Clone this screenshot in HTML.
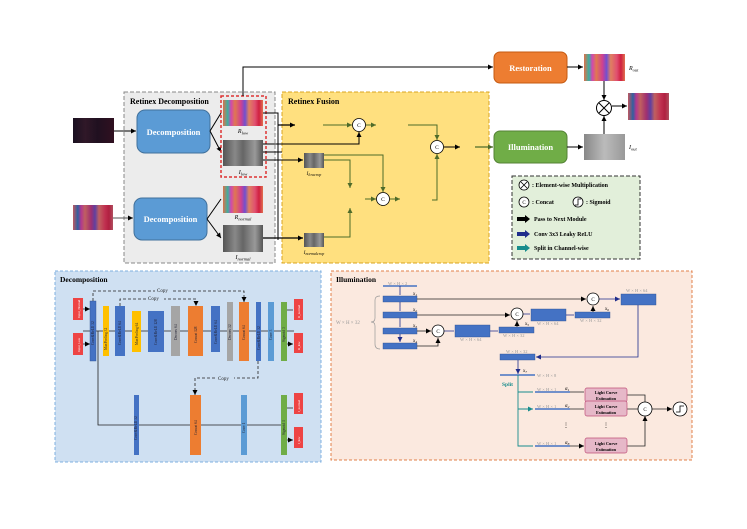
<!DOCTYPE html>
<html><head><meta charset="utf-8"><style>
html,body{margin:0;padding:0;background:#fff}
svg{display:block}
text{font-family:"Liberation Serif",serif}
</style></head><body>
<svg width="747" height="529" viewBox="0 0 747 529" xmlns="http://www.w3.org/2000/svg">
<defs>
<marker id="ab" markerWidth="6" markerHeight="6" refX="5" refY="3" orient="auto" markerUnits="userSpaceOnUse"><path d="M0,0.5 L5,3 L0,5.5z" fill="#000"/></marker>
<marker id="ag" markerWidth="6" markerHeight="6" refX="5" refY="3" orient="auto" markerUnits="userSpaceOnUse"><path d="M0,0.5 L5,3 L0,5.5z" fill="#4e6b2a"/></marker>
<marker id="an" markerWidth="6" markerHeight="6" refX="5" refY="3" orient="auto" markerUnits="userSpaceOnUse"><path d="M0,0.5 L5,3 L0,5.5z" fill="#1f2d8c"/></marker>
<marker id="at" markerWidth="6" markerHeight="6" refX="5" refY="3" orient="auto" markerUnits="userSpaceOnUse"><path d="M0,0.5 L5,3 L0,5.5z" fill="#178c8c"/></marker>
<linearGradient id="col" x1="0" x2="1">
<stop offset="0" stop-color="#e0704a"/><stop offset="0.12" stop-color="#3bb0a0"/><stop offset="0.2" stop-color="#d048b0"/><stop offset="0.3" stop-color="#e07850"/><stop offset="0.45" stop-color="#d04090"/><stop offset="0.55" stop-color="#7050d0"/><stop offset="0.65" stop-color="#e08060"/><stop offset="0.8" stop-color="#e05070"/><stop offset="0.9" stop-color="#d02040"/><stop offset="1" stop-color="#e07050"/></linearGradient>
<linearGradient id="col2" x1="0" x2="1">
<stop offset="0" stop-color="#c05860"/><stop offset="0.12" stop-color="#3060a0"/><stop offset="0.2" stop-color="#b03890"/><stop offset="0.3" stop-color="#c06060"/><stop offset="0.45" stop-color="#a03070"/><stop offset="0.55" stop-color="#6040a0"/><stop offset="0.65" stop-color="#c06060"/><stop offset="0.8" stop-color="#c03050"/><stop offset="0.9" stop-color="#b02040"/><stop offset="1" stop-color="#b05060"/></linearGradient>
<linearGradient id="dk" x1="0" x2="1"><stop offset="0" stop-color="#1a1020"/><stop offset="0.3" stop-color="#301828"/><stop offset="0.6" stop-color="#201020"/><stop offset="1" stop-color="#301020"/></linearGradient>
<linearGradient id="gr" x1="0" x2="1"><stop offset="0" stop-color="#555"/><stop offset="0.3" stop-color="#888"/><stop offset="0.5" stop-color="#666"/><stop offset="0.8" stop-color="#999"/><stop offset="1" stop-color="#555"/></linearGradient>
<linearGradient id="gr2" x1="0" x2="1"><stop offset="0" stop-color="#888"/><stop offset="0.5" stop-color="#bbb"/><stop offset="1" stop-color="#999"/></linearGradient>
</defs>

<!-- TOP: boxes -->
<rect x="124" y="92" width="151" height="171" fill="#ececec" stroke="#888" stroke-dasharray="4,2" stroke-width="1"/>
<text x="130" y="104" font-size="8" font-weight="bold">Retinex Decomposition</text>
<rect x="282" y="92" width="207" height="171" fill="#ffe07f" stroke="#d9a520" stroke-dasharray="4,2" stroke-width="1"/>
<text x="288" y="104" font-size="8" font-weight="bold">Retinex Fusion</text>

<!-- inputs -->
<rect x="73" y="118" width="41" height="25" fill="url(#dk)"/>
<rect x="73" y="205" width="40" height="25" fill="url(#col2)"/>
<line x1="114" y1="131" x2="136" y2="131" stroke="#000" marker-end="url(#ab)"/>
<line x1="113" y1="218" x2="133" y2="218" stroke="#555" marker-end="url(#ab)"/>

<rect x="137" y="110" width="73" height="43" rx="8" fill="#5b9bd5" stroke="#41719c"/>
<text x="173.5" y="135" font-size="8.5" font-weight="bold" fill="#fff" text-anchor="middle">Decomposition</text>
<rect x="134" y="198" width="73" height="42" rx="8" fill="#5b9bd5" stroke="#41719c"/>
<text x="170.5" y="222" font-size="8.5" font-weight="bold" fill="#fff" text-anchor="middle">Decomposition</text>
<path d="M210,131 L221,113 M210,131 L221,152" stroke="#000" fill="none" marker-end="url(#ab)"/>
<path d="M207,219 L221,199 M207,219 L221,238" stroke="#000" fill="none" marker-end="url(#ab)"/>

<rect x="221" y="96" width="45" height="81" fill="none" stroke="#d33" stroke-dasharray="3,2" stroke-width="1.5"/>
<rect x="223" y="100" width="40" height="26" fill="url(#col)"/>
<text x="243" y="133" font-size="6" font-style="italic" text-anchor="middle">R<tspan font-size="4.5" dy="1.5">low</tspan></text>
<rect x="223" y="140" width="40" height="26" fill="url(#gr)"/>
<text x="243" y="174" font-size="6" font-style="italic" text-anchor="middle">I<tspan font-size="4.5" dy="1.5">low</tspan></text>
<rect x="223" y="186" width="40" height="27" fill="url(#col)"/>
<text x="243" y="219" font-size="6" font-style="italic" text-anchor="middle">R<tspan font-size="4.5" dy="1.5">normal</tspan></text>
<rect x="223" y="225" width="40" height="27" fill="url(#gr)"/>
<text x="243" y="259" font-size="6" font-style="italic" text-anchor="middle">I<tspan font-size="4.5" dy="1.5">normal</tspan></text>

<!-- to restoration -->
<path d="M243,96 L243,67 L493,67" stroke="#000" fill="none" marker-end="url(#ab)"/>

<!-- fusion lines -->
<path d="M263,113 L278,113 L278,240" stroke="#000" fill="none"/>
<line x1="278" y1="125" x2="295" y2="125" stroke="#000" stroke-width="1.3" marker-end="url(#ab)"/>
<line x1="323" y1="125" x2="352" y2="125" stroke="#4e6b2a" marker-end="url(#ag)"/>
<path d="M263,144 L359,144 L359,132" stroke="#000" fill="none" marker-end="url(#ab)"/>
<path d="M263,152 L282,152 M263,160 L303,160" stroke="#000" fill="none" marker-end="url(#ab)"/>
<path d="M263,238 L303,238" stroke="#000" stroke-width="1.3" fill="none" marker-end="url(#ab)"/>
<rect x="304" y="153" width="20" height="15" fill="url(#gr)"/>
<text x="314" y="175" font-size="5" font-style="italic" text-anchor="middle">I<tspan font-size="4" dy="1">lowcrop</tspan></text>
<rect x="304" y="233" width="20" height="14" fill="url(#gr)"/>
<text x="314" y="254" font-size="5" font-style="italic" text-anchor="middle">I<tspan font-size="4" dy="1">normalcrop</tspan></text>
<path d="M324,155 L383,155 L383,192" stroke="#4e6b2a" fill="none" marker-end="url(#ag)"/>
<path d="M324,160 L350,160 L350,188" stroke="#4e6b2a" fill="none" marker-end="url(#ag)"/>
<path d="M324,237 L350,237 L350,208" stroke="#4e6b2a" fill="none" marker-end="url(#ag)"/>
<line x1="365" y1="199" x2="376" y2="199" stroke="#4e6b2a" marker-end="url(#ag)"/>
<line x1="390" y1="199" x2="400" y2="199" stroke="#4e6b2a" marker-end="url(#ag)"/>
<line x1="366" y1="125" x2="376" y2="125" stroke="#4e6b2a" marker-end="url(#ag)"/>
<path d="M408,125 L437,125 L437,140" stroke="#4e6b2a" fill="none" marker-end="url(#ag)"/>
<path d="M432,200 L437,200 L437,154" stroke="#4e6b2a" fill="none" marker-end="url(#ag)"/>
<line x1="444" y1="147" x2="460" y2="147" stroke="#000" marker-end="url(#ab)"/>
<line x1="475" y1="147" x2="493" y2="147" stroke="#4e6b2a" stroke-width="1.2" marker-end="url(#ag)"/>
<g fill="#fff" stroke="#000" stroke-width="0.8">
<circle cx="359" cy="125" r="6.5"/><circle cx="437" cy="147" r="6.5"/><circle cx="383" cy="199" r="6.5"/></g>
<g font-size="5.5" text-anchor="middle" font-family="Liberation Sans"><text x="359" y="127" font-family="Liberation Sans">C</text><text x="437" y="149" font-family="Liberation Sans">C</text><text x="383" y="201" font-family="Liberation Sans">C</text></g>

<!-- right: restoration / illumination -->
<rect x="494" y="52" width="73" height="31" rx="6" fill="#ed7d31" stroke="#c55a11"/>
<text x="530.5" y="71" font-size="8.5" font-weight="bold" fill="#fff" text-anchor="middle">Restoration</text>
<rect x="494" y="131" width="73" height="32" rx="6" fill="#70ad47" stroke="#548235"/>
<text x="530.5" y="150" font-size="8.5" font-weight="bold" fill="#fff" text-anchor="middle">Illumination</text>
<line x1="567" y1="67" x2="583" y2="67" stroke="#000" marker-end="url(#ab)"/>
<line x1="567" y1="147" x2="583" y2="147" stroke="#000" marker-end="url(#ab)"/>
<rect x="584" y="54" width="41" height="27" fill="url(#col)"/>
<text x="629" y="70" font-size="6" font-style="italic">R<tspan font-size="4.5" dy="1.5">out</tspan></text>
<rect x="584" y="134" width="41" height="26" fill="url(#gr2)"/>
<text x="629" y="149" font-size="6" font-style="italic">I<tspan font-size="4.5" dy="1.5">out</tspan></text>
<line x1="604" y1="81" x2="604" y2="100" stroke="#000" marker-end="url(#ab)"/>
<line x1="604" y1="134" x2="604" y2="116" stroke="#000" marker-end="url(#ab)"/>
<circle cx="604" cy="108" r="7.5" fill="#fff" stroke="#000"/>
<path d="M599,103 L609,113 M609,103 L599,113" stroke="#000"/>
<line x1="612" y1="106" x2="627" y2="106" stroke="#000" marker-end="url(#ab)"/>
<rect x="628" y="93" width="41" height="27" fill="url(#col2)"/>

<!-- legend -->
<rect x="512" y="176" width="128" height="83" fill="#e2efda" stroke="#333" stroke-dasharray="4,2"/>
<g font-size="6" font-weight="bold">
<circle cx="524" cy="185" r="5" fill="#fff" stroke="#000" stroke-width="0.8"/><path d="M521,182 L527,188 M527,182 L521,188" stroke="#000" stroke-width="0.8"/>
<text x="532" y="187">:  Element-wise Multiplication</text>
<circle cx="524" cy="202" r="5" fill="#fff" stroke="#000" stroke-width="0.8"/><text x="524" y="204" font-size="5" text-anchor="middle" font-weight="normal" font-family="Liberation Sans">C</text>
<text x="532" y="204">:  Concat</text>
<circle cx="578" cy="202" r="5" fill="#fff" stroke="#000" stroke-width="0.8"/><path d="M575,205 L578,205 L578,199 L581,199" stroke="#000" fill="none" stroke-width="0.8"/>
<text x="586" y="204">:  Sigmoid</text>
<path d="M517,217 L525,217 L525,215 L530,219 L525,223 L525,221 L517,221z" fill="#000"/>
<text x="534" y="221">Pass to Next Module</text>
<path d="M517,232 L525,232 L525,230 L530,234 L525,238 L525,236 L517,236z" fill="#1f2d8c"/>
<text x="534" y="236">Conv 3x3  Leaky ReLU</text>
<path d="M517,246 L525,246 L525,244 L530,248 L525,252 L525,250 L517,250z" fill="#178c8c"/>
<text x="534" y="250">Split in Channel-wise</text>
</g>

<!-- BOTTOM LEFT: Decomposition -->
<rect x="55" y="271" width="266" height="191" fill="#cfe0f2" stroke="#7fb0e0" stroke-dasharray="3,2"/>
<text x="60" y="282" font-size="7.5" font-weight="bold">Decomposition</text>
<g font-family="Liberation Sans" font-size="3.6" fill="#222">
<!-- main line -->
<line x1="83" y1="331" x2="294" y2="331" stroke="#222" stroke-width="0.8"/>
<path d="M98,331 L98,425 L282,425" stroke="#222" stroke-width="0.8" fill="none"/>
<line x1="83" y1="309" x2="90" y2="309" stroke="#222" stroke-width="0.8" marker-end="url(#ab)"/>
<line x1="83" y1="344" x2="90" y2="344" stroke="#222" stroke-width="0.8" marker-end="url(#ab)"/>
<path d="M93,301 L93,291 L244,291 L244,302" stroke="#222" stroke-dasharray="3,2" stroke-width="0.8" fill="none" marker-end="url(#ab)"/>
<path d="M120,306 L120,299 L196,299 L196,306" stroke="#222" stroke-dasharray="3,2" stroke-width="0.8" fill="none" marker-end="url(#ab)"/>
<path d="M258,361 L258,378 L195,378 L195,395" stroke="#222" stroke-dasharray="3,2" stroke-width="0.8" fill="none" marker-end="url(#ab)"/>
<rect x="155" y="286" width="18" height="8" fill="#cfe0f2"/><text x="157" y="292" font-size="5">Copy</text>
<rect x="146" y="294" width="18" height="8" fill="#cfe0f2"/><text x="148" y="300" font-size="5">Copy</text>
<rect x="216" y="374" width="18" height="8" fill="#cfe0f2"/><text x="218" y="380" font-size="5">Copy</text>

<rect x="73" y="298" width="10" height="22" fill="#ee4444"/>
<rect x="73" y="333" width="10" height="22" fill="#ee4444"/>
<rect x="90" y="301" width="6" height="60" fill="#4472c4" stroke="#2f528f" stroke-width="0.4"/>
<rect x="103" y="306" width="6" height="50" fill="#ffc000"/>
<rect x="115" y="306" width="10" height="50" fill="#4472c4"/>
<rect x="132" y="311" width="9" height="41" fill="#ffc000"/>
<rect x="148" y="311" width="16" height="41" fill="#4472c4"/>
<rect x="171" y="306" width="9" height="50" fill="#a5a5a5"/>
<rect x="188" y="306" width="15" height="50" fill="#ed7d31"/>
<rect x="211" y="306" width="9" height="46" fill="#4472c4"/>
<rect x="227" y="302" width="6" height="59" fill="#a5a5a5"/>
<rect x="239" y="302" width="10" height="59" fill="#ed7d31"/>
<rect x="256" y="302" width="5" height="59" fill="#4472c4"/>
<rect x="268" y="302" width="6" height="59" fill="#5b9bd5"/>
<rect x="281" y="302" width="6" height="59" fill="#70ad47"/>
<rect x="294" y="299" width="9" height="21" fill="#ee4444"/>
<rect x="294" y="333" width="9" height="20" fill="#ee4444"/>
<path d="M287,310 L293,310 M287,344 L293,344" stroke="#222" stroke-width="0.8" marker-end="url(#ab)"/>
<rect x="134" y="395" width="5" height="60" fill="#4472c4"/>
<rect x="190" y="395" width="11" height="60" fill="#ed7d31"/>
<rect x="241" y="395" width="6" height="60" fill="#5b9bd5"/>
<rect x="281" y="395" width="6" height="60" fill="#70ad47"/>
<rect x="294" y="393" width="9" height="21" fill="#ee4444"/>
<rect x="294" y="427" width="9" height="21" fill="#ee4444"/>
<path d="M287,408 L293,408 M287,440 L293,440" stroke="#222" stroke-width="0.8" marker-end="url(#ab)"/>
<g fill="#223">
<text transform="translate(94,345) rotate(-90)">Conv&amp;ReLU 32</text>
<text transform="translate(107,350) rotate(-90)">MaxPooling 32</text>
<text transform="translate(121,345) rotate(-90)">Conv&amp;ReLU 64</text>
<text transform="translate(138,345) rotate(-90)">MaxPooling 64</text>
<text transform="translate(157,345) rotate(-90)">Conv&amp;ReLU 128</text>
<text transform="translate(177,340) rotate(-90)">Deconv 64</text>
<text transform="translate(197,343) rotate(-90)">Concat 128</text>
<text transform="translate(217,344) rotate(-90)">Conv&amp;ReLU 64</text>
<text transform="translate(231,340) rotate(-90)">Deconv 32</text>
<text transform="translate(245,340) rotate(-90)">Concat 64</text>
<text transform="translate(260,350) rotate(-90)">Conv&amp;ReLU 32</text>
<text transform="translate(272,340) rotate(-90)">Conv 3</text>
<text transform="translate(285,342) rotate(-90)">Sigmoid 3</text>
<text transform="translate(137,440) rotate(-90)">Conv&amp;ReLU 32</text>
<text transform="translate(197,435) rotate(-90)">Concat 64</text>
<text transform="translate(245,433) rotate(-90)">Conv 1</text>
<text transform="translate(285,435) rotate(-90)">Sigmoid 1</text>
</g>
<g fill="#fff" font-size="3.2">
<text transform="translate(80,318) rotate(-90)">Input_Normal</text>
<text transform="translate(80,352) rotate(-90)">Input_Low</text>
<text transform="translate(300,318) rotate(-90)">R_normal</text>
<text transform="translate(300,350) rotate(-90)">R_low</text>
<text transform="translate(300,412) rotate(-90)">I_normal</text>
<text transform="translate(300,444) rotate(-90)">I_low</text>
</g>
</g>

<!-- BOTTOM RIGHT: Illumination -->
<rect x="331" y="271" width="361" height="189" fill="#fbe9df" stroke="#e0804a" stroke-dasharray="3,2"/>
<text x="336" y="282" font-size="7.5" font-weight="bold">Illumination</text>
<g font-size="4.5" fill="#999">
<text x="388" y="285">W × H × 2</text>
<text x="336" y="324" font-size="5">W × H × 32</text>
<text x="460" y="341">W × H × 64</text>
<text x="503" y="337">W × H × 32</text>
<text x="537" y="325">W × H × 64</text>
<text x="580" y="322">W × H × 32</text>
<text x="626" y="292">W × H × 64</text>
<text x="506" y="353">W × H × 32</text>
<text x="537" y="377">W × H × 8</text>
<text x="537" y="391">W × H × 1</text>
<text x="537" y="408">W × H × 1</text>
<text x="537" y="445">W × H × 1</text>
</g>
<path d="M380,296 Q375,296 375,300 L375,318 Q375,322 371,322 Q375,322 375,326 L375,344 Q375,349 380,349" fill="none" stroke="#999" stroke-width="0.7"/>
<line x1="383" y1="286" x2="417" y2="286" stroke="#4472c4" stroke-width="1.5"/>
<g fill="#4472c4" stroke="#2f528f" stroke-width="0.4">
<rect x="383" y="296" width="34" height="6"/><rect x="383" y="312" width="34" height="6"/>
<rect x="383" y="328" width="34" height="6"/><rect x="383" y="343" width="34" height="6"/>
<rect x="455" y="325" width="35" height="12"/><rect x="499" y="327" width="35" height="6"/>
<rect x="531" y="309" width="35" height="12"/><rect x="575" y="312" width="35" height="6"/>
<rect x="621" y="294" width="35" height="11"/><rect x="500" y="354" width="35" height="6"/>
</g>
<line x1="500" y1="375" x2="535" y2="375" stroke="#4472c4" stroke-width="1.5"/>
<g stroke="#1f2d8c" stroke-width="0.8" fill="none">
<path d="M400,286 L400,295 M400,302 L400,311 M400,318 L400,327 M400,334 L400,342" marker-end="url(#an)"/>
<path d="M444,331 L454,331 M490,331 L498,331 M523,314 L530,314 M566,315 L574,315 M599,299 L620,299" marker-end="url(#an)"/>
<path d="M638,305 L638,357 L536,357" marker-end="url(#an)"/>
<path d="M518,360 L518,374" marker-end="url(#an)"/>
</g>
<g stroke="#222" stroke-width="0.8" fill="none">
<path d="M417,299 L586,299" marker-end="url(#ab)"/>
<path d="M417,315 L510,315" marker-end="url(#ab)"/>
<path d="M417,331 L431,331" marker-end="url(#ab)"/>
<path d="M417,346 L438,346 L438,338" marker-end="url(#ab)"/>
<path d="M517,327 L517,321" marker-end="url(#ab)"/>
<path d="M593,312 L593,306" marker-end="url(#ab)"/>
<path d="M570,392 L584,392 M570,409 L584,409 M570,446 L584,446" marker-end="url(#ab)"/>
<path d="M627,395 L645,395 L645,402 M627,409 L638,409 M627,446 L645,446 L645,416" marker-end="url(#ab)"/>
<path d="M652,409 L672,409" marker-end="url(#ab)"/>
</g>
<g fill="#fff" stroke="#000" stroke-width="0.8">
<circle cx="438" cy="331" r="6"/><circle cx="517" cy="314" r="6"/><circle cx="593" cy="299" r="6"/><circle cx="645" cy="409" r="7"/><circle cx="680" cy="409" r="7"/>
</g>
<path d="M676,412 L680,412 L680,406 L684,406" stroke="#000" fill="none" stroke-width="0.8"/>
<g font-size="5" text-anchor="middle" font-family="Liberation Sans"><text x="438" y="333" font-family="Liberation Sans">C</text><text x="517" y="316" font-family="Liberation Sans">C</text><text x="593" y="301" font-family="Liberation Sans">C</text><text x="645" y="411" font-family="Liberation Sans">C</text></g>
<g font-size="5" font-style="italic">
<text x="413" y="295">x<tspan font-size="3.5" dy="1">1</tspan></text><text x="413" y="311">x<tspan font-size="3.5" dy="1">2</tspan></text>
<text x="413" y="327">x<tspan font-size="3.5" dy="1">3</tspan></text><text x="413" y="342">x<tspan font-size="3.5" dy="1">4</tspan></text>
<text x="525" y="325">x<tspan font-size="3.5" dy="1">5</tspan></text><text x="605" y="310">x<tspan font-size="3.5" dy="1">6</tspan></text>
<text x="523" y="372">x<tspan font-size="3.5" dy="1">7</tspan></text>
<text x="565" y="390">α<tspan font-size="3.5" dy="1">1</tspan></text><text x="565" y="407">α<tspan font-size="3.5" dy="1">2</tspan></text><text x="565" y="444">α<tspan font-size="3.5" dy="1">8</tspan></text>
</g>
<text x="502" y="386" font-size="5.5" font-weight="bold" fill="#178c8c">Split</text>
<g stroke="#178c8c" stroke-width="0.9" fill="none">
<path d="M518,375 L518,446 L533,446 M518,392 L533,392 M518,409 L533,409" marker-end="url(#at)"/>
</g>
<g stroke="#4472c4" stroke-width="1.5"><line x1="535" y1="392" x2="570" y2="392"/><line x1="535" y1="409" x2="570" y2="409"/><line x1="535" y1="446" x2="570" y2="446"/></g>
<g fill="#e6b8c8" stroke="#c0507a" stroke-width="0.7">
<rect x="585" y="388" width="42" height="14" rx="2"/><rect x="585" y="401" width="42" height="15" rx="2"/><rect x="585" y="438" width="42" height="15" rx="2"/>
</g>
<g font-size="4.3" font-weight="bold" text-anchor="middle">
<text x="606" y="394">Light Curve</text><text x="606" y="400">Estimation</text>
<text x="606" y="408">Light Curve</text><text x="606" y="414">Estimation</text>
<text x="606" y="445">Light Curve</text><text x="606" y="451">Estimation</text>
</g>
<text x="566" y="427" font-size="6" text-anchor="middle">⋮</text>
<text x="606" y="427" font-size="6" text-anchor="middle">⋮</text>
</svg>
</body></html>
